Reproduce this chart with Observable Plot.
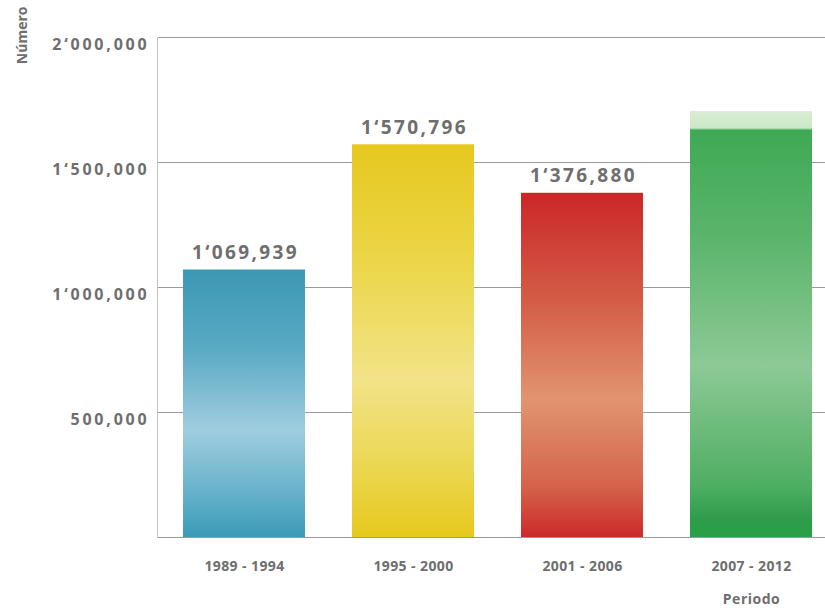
<!DOCTYPE html>
<html>
<head>
<meta charset="utf-8">
<script src="https://cdn.jsdelivr.net/npm/d3@7"></script>
<script src="https://cdn.jsdelivr.net/npm/@observablehq/plot@0.6"></script>
<style>
  html, body { margin: 0; padding: 0; background: #fff; }
  #chart { width: 825px; height: 608px; }
</style>
</head>
<body>
<div id="chart"></div>
<script>
const periods = ["1989 - 1994", "1995 - 2000", "2001 - 2006", "2007 - 2012"];
const values = [1069939, 1570796, 1376880, 1704000];
const valueLabels = ["1‘069,939", "1‘570,796", "1‘376,880", ""];
const yTicks = [500000, 1000000, 1500000, 2000000];
const gradIds = ["gBlue", "gYellow", "gRed", "gGreen"];

const data = periods.map((p, i) => ({period: p, value: values[i], label: valueLabels[i], grad: `url(#${gradIds[i]})`}));

function fmt(n) {
  if (n >= 1e6) {
    const m = Math.floor(n / 1e6);
    const rest = n % 1e6;
    const th = Math.floor(rest / 1000);
    const u = rest % 1000;
    return m + "‘" + String(th).padStart(3, "0") + "," + String(u).padStart(3, "0");
  }
  return d3.format(",")(n);
}

const font = "'Open Sans', sans-serif";
const grey = "#6e6e6e";

const chart = Plot.plot({
  width: 825,
  height: 608,
  marginTop: 37,
  marginBottom: 71,
  marginLeft: 157,
  marginRight: 0,
  style: {fontFamily: font, background: "#fff", overflow: "visible"},
  x: {domain: periods, range: [157, 837], paddingInner: 0.28, paddingOuter: 0.15, label: null, axis: null},
  y: {domain: [0, 2000000], label: null, axis: null},
  marks: [
    Plot.ruleY(yTicks, {stroke: "#9a9a9a", strokeWidth: 1, strokeOpacity: 1}),
    Plot.ruleY([0], {stroke: "#9a9a9a", strokeWidth: 1, strokeOpacity: 1}),
    Plot.frame({anchor: "left", stroke: "#c4c4c4", strokeWidth: 1}),
    Plot.barY(data, {x: "period", y: "value", fill: "grad"}),
    Plot.text(data, {x: "period", y: "value", text: "label", dy: -11, dx: 1, lineAnchor: "bottom", fontSize: 19, fontWeight: "bold", fill: grey}),
    Plot.axisY(yTicks, {tickFormat: fmt, tickSize: 0, tickPadding: 8, dy: 7, fontSize: 16, fontWeight: "bold", fill: grey, label: null}),
    Plot.axisX({tickSize: 0, tickPadding: 24, fontSize: 14, fontWeight: "bold", fill: grey, label: null}),
    Plot.text(["Periodo"], {frameAnchor: "bottom", x: () => periods[3], dy: 66, lineAnchor: "bottom", fontSize: 14, fontWeight: "bold", fill: grey}),
    Plot.text(["Número"], {frameAnchor: "top-left", dx: -135, dy: -31, rotate: -90, textAnchor: "end", lineAnchor: "middle", fontSize: 14, fontWeight: "bold", fill: grey})
  ]
});

// gradient definitions for the glossy bars
const svg = d3.select(chart);
const defs = svg.insert("defs", ":first-child");
const grads = [
  {id: "gBlue", stops: [[0, "#3b98b4"], [0.3, "#5aaac4"], [0.6, "#a0cde0"], [0.85, "#62b0c8"], [1, "#3a9ab7"]]},
  {id: "gYellow", stops: [[0, "#e6c81f"], [0.3, "#ecd648"], [0.6, "#f2e388"], [0.85, "#ebd54a"], [1, "#e6c81c"]]},
  {id: "gRed", stops: [[0, "#cb2728"], [0.3, "#d35a45"], [0.6, "#e1946f"], [0.85, "#d4644b"], [1, "#cc2a28"]]},
  {id: "gGreen", stops: [[0, "#d9eed4"], [0.04, "#cde7c6"], [0.045, "#3ea955"], [0.3, "#5bb56b"], [0.6, "#8dc996"], [0.88, "#4fae62"], [0.96, "#2e9c4a"], [1, "#28a046"]]}
];
grads.forEach(g => {
  const lg = defs.append("linearGradient").attr("id", g.id)
    .attr("x1", 0).attr("y1", 0).attr("x2", 0).attr("y2", 1);
  g.stops.forEach(([o, c]) => lg.append("stop").attr("offset", o).attr("stop-color", c));
});

// wider tracking to match the reference's broad typeface
const valueSet = new Set(valueLabels);
const tickSet = new Set(yTicks.map(fmt));
const periodSet = new Set(periods);
svg.selectAll("text").each(function() {
  const t = this.textContent;
  let ls = null;
  if (valueSet.has(t) && t !== "") ls = "2.4px";
  else if (tickSet.has(t)) ls = "2.8px";
  else if (periodSet.has(t)) ls = "0.4px";
  else if (t === "Periodo") ls = "0.5px";
  if (ls) { this.style.letterSpacing = ls; this.setAttribute("letter-spacing", ls); }
});

document.getElementById("chart").appendChild(chart);
</script>
</body>
</html>
